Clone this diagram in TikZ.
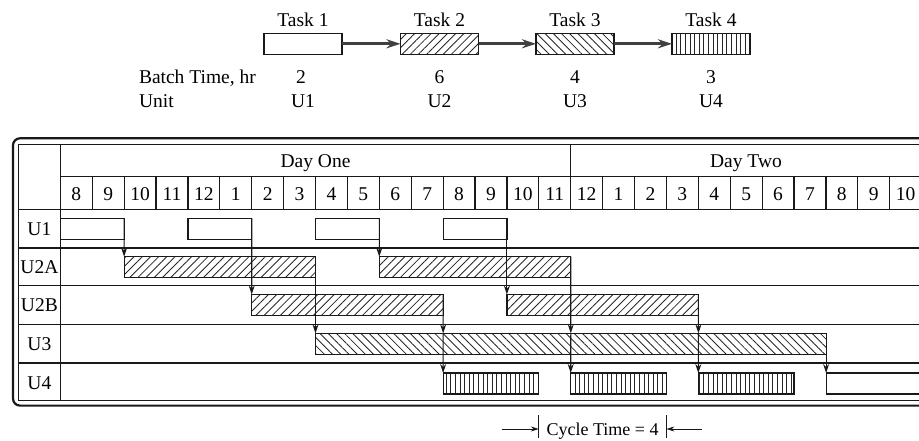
\documentclass[tikz,border=0pt]{standalone}
\usepackage{fontspec}
\setmainfont{Liberation Serif}
\usetikzlibrary{arrows.meta,patterns.meta,calc}

\begin{document}
\begin{tikzpicture}[x=1pt,y=-1pt,
  every node/.style={font=\fontsize{19.5}{22}\selectfont, inner sep=0pt, outer sep=0pt},
  gridline/.style={line width=1.2pt, black!90},
  bar/.style={draw=black!90, line width=1.2pt, minimum height=21, anchor=north west},
  taskbox/.style={draw=black!90, line width=1.3pt, minimum width=78, minimum height=21},
  hatchR/.style={pattern={Lines[angle=45,distance=5.8pt,line width=0.85pt]}, pattern color=black!85},
  hatchL/.style={pattern={Lines[angle=-45,distance=5.8pt,line width=0.85pt]}, pattern color=black!85},
  hatchV/.style={pattern={Lines[angle=90,distance=4.6pt,line width=0.85pt]}, pattern color=black!85},
  link/.style={line width=3pt, black!75, -{Stealth[length=14pt,width=9pt]}},
  flow/.style={line width=1.1pt, black!90, -{Stealth[length=9pt,width=6pt]}},
  span/.style={line width=1pt, black!90, -{Stealth[length=8pt,width=5pt]}}
]
\useasboundingbox (0,0) rectangle (919,440);

% ---- task sequence ----
\node[taskbox] (task1) at (303,43.8) {};
\node[taskbox,hatchR] (task2) at (439.5,43.8) {};
\node[taskbox,hatchL] (task3) at (575,43.8) {};
\node[taskbox,hatchV] (task4) at (711,43.8) {};
\draw[link] (task1) -- (task2);
\draw[link] (task2) -- (task3);
\draw[link] (task3) -- (task4);

\node[anchor=base] (tl1) at (303,26.7) {Task 1};
\node[anchor=base] (tl2) at (439.5,26.7) {Task 2};
\node[anchor=base] (tl3) at (575,26.7) {Task 3};
\node[anchor=base] (tl4) at (711,26.7) {Task 4};

\node[anchor=base west] (bthead) at (139,83.3) {Batch Time, hr};
\node[anchor=base] (bt1) at (301,83.3) {2};
\node[anchor=base] (bt2) at (439.5,83.3) {6};
\node[anchor=base] (bt3) at (575,83.3) {4};
\node[anchor=base] (bt4) at (711,83.3) {3};

\node[anchor=base west] (unhead) at (139,107.6) {Unit};
\node[anchor=base] (un1) at (303,107.6) {U1};
\node[anchor=base] (un2) at (439.5,107.6) {U2};
\node[anchor=base] (un3) at (575,107.6) {U3};
\node[anchor=base] (un4) at (711,107.6) {U4};

% ---- schedule table frame ----
\draw[line width=2.2pt, black!90, rounded corners=7] (13,138.3) rectangle (928,405.6);
\draw[gridline] (18.5,144.3) rectangle (921.6,400.4);
\draw[gridline] (60.3,144.3) -- (60.3,400.4);
\draw[gridline] (60.3,176.7) -- (921.6,176.7);
\draw[gridline] (570.7,144.3) -- (570.7,176.7);
\foreach \y in {209.3,248,285.8,324.3,363}
  \draw[gridline] (18.5,\y) -- (921.6,\y);
\foreach \k in {1,...,26}
  \draw[gridline] ({60.3+31.9*\k},176.7) -- ({60.3+31.9*\k},209.3);

\node[anchor=base] (day1) at (315.5,167.3) {Day One};
\node[anchor=base] (day2) at (746,167.3) {Day Two};
\foreach \lbl [count=\i from 0] in {8,9,10,11,12,1,2,3,4,5,6,7,8,9,10,11,12,1,2,3,4,5,6,7,8,9,10}
  \node[anchor=base] (hr\i) at ({60.3+31.9*(\i+0.5)},200) {\lbl};

\node[anchor=base] (rU1) at (39.4,235.5) {U1};
\node[anchor=base] (rU2A) at (39.4,273.5) {U2A};
\node[anchor=base] (rU2B) at (39.4,311.8) {U2B};
\node[anchor=base] (rU3) at (39.4,350.5) {U3};
\node[anchor=base] (rU4) at (39.4,389) {U4};

% ---- batches (1 h = 31.9) ----
\node[bar, minimum width=63.8] (u1a) at (60.3,218.3) {};
\node[bar, minimum width=63.8] (u1b) at (187.9,218.3) {};
\node[bar, minimum width=63.8] (u1c) at (315.5,218.3) {};
\node[bar, minimum width=63.8] (u1d) at (443.1,218.3) {};

\node[bar, hatchR, minimum width=191.4] (u2aA) at (124.1,256.7) {};
\node[bar, hatchR, minimum width=191.4] (u2aB) at (379.3,256.7) {};

\node[bar, hatchR, minimum width=191.4] (u2bA) at (251.7,294.5) {};
\node[bar, hatchR, minimum width=191.4] (u2bB) at (506.9,294.5) {};

\node[bar, hatchL, minimum width=510.6] (u3) at (315.5,333.3) {};

\node[bar, hatchV, minimum width=95.7] (u4a) at (443.1,373) {};
\node[bar, hatchV, minimum width=95.7] (u4b) at (570.7,373) {};
\node[bar, hatchV, minimum width=95.7] (u4c) at (698.3,373) {};
\node[bar, minimum width=110] (u4d) at (826.1,373) {};

% batch ends on the U3 bar
\coordinate (u3e1) at ($(u3.north west)!0.25!(u3.north east)$);
\coordinate (u3e2) at ($(u3.north west)!0.5!(u3.north east)$);
\coordinate (u3e3) at ($(u3.north west)!0.75!(u3.north east)$);

% ---- transfers between units ----
\draw[flow] (u1a.north east) -- (u2aA.north west);
\draw[flow] (u1b.north east) -- (u2bA.north west);
\draw[flow] (u1c.north east) -- (u2aB.north west);
\draw[flow] (u1d.north east) -- (u2bB.north west);

\draw[flow] (u2aA.north east) -- (u3.north west);
\draw[flow] (u2bA.north east) -- (u3e1);
\draw[flow] (u2aB.north east) -- (u3e2);
\draw[flow] (u2bB.north east) -- (u3e3);

\draw[flow] (u3e1) -- (u4a.north west);
\draw[flow] (u3e2) -- (u4b.north west);
\draw[flow] (u3e3) -- (u4c.north west);
\draw[flow] (u3.north east) -- (u4d.north west);

% ---- cycle time ----
\coordinate (ctLt) at (538.8,415);
\coordinate (ctLb) at (538.8,437.5);
\coordinate (ctRt) at (666.4,415);
\coordinate (ctRb) at (666.4,437.5);
\coordinate (ctLm) at (538.8,429);
\coordinate (ctRm) at (666.4,429);
\coordinate (ctLs) at (501.7,429);
\coordinate (ctRs) at (701.7,429);
\draw[line width=1pt, black!90] (ctLt) -- (ctLb);
\draw[line width=1pt, black!90] (ctRt) -- (ctRb);
\draw[span] (ctLs) -- (ctLm);
\draw[span] (ctRs) -- (ctRm);
\node[anchor=base, font=\fontsize{18}{20}\selectfont] (cyc) at (602.6,435) {Cycle Time = 4};
\end{tikzpicture}
\end{document}
